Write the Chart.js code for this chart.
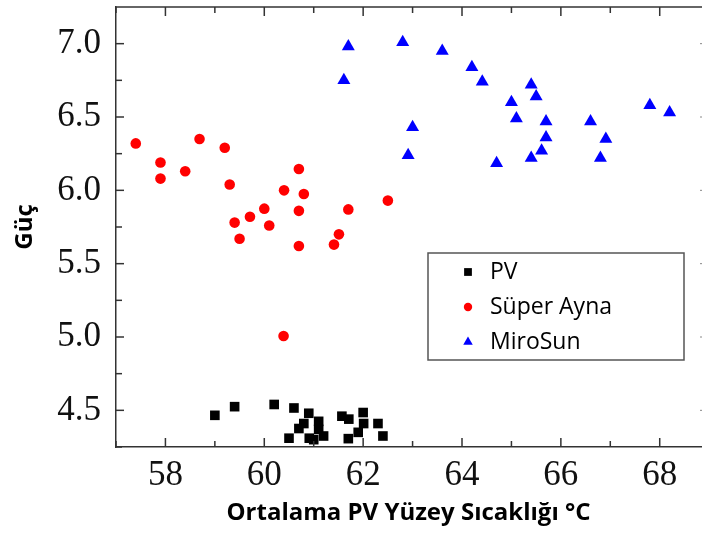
<!DOCTYPE html>
<html>
<head>
<meta charset="utf-8">
<script src="https://cdn.jsdelivr.net/npm/chart.js@4/dist/chart.umd.min.js"></script>
<style>
    html, body { margin: 0; padding: 0; background: #fff; }
    #wrap { width: 702px; height: 533px; }
</style>
</head>
<body>
<div id="wrap"><canvas id="chart" width="702" height="533"></canvas></div>
<script>
/* ── Datos ─────────────────────────────────────────── */
var PV_X = [59.0, 59.4, 60.2, 60.6, 60.9, 60.8, 60.7, 61.1, 61.1, 60.5, 60.91, 61.0, 61.2,
            61.57, 61.71, 62.0, 62.01, 61.9, 61.7, 62.3, 62.4];
var PV_Y = [4.466, 4.525, 4.54, 4.516, 4.48, 4.41, 4.376, 4.425, 4.37, 4.31, 4.31, 4.30, 4.325,
            4.46, 4.44, 4.485, 4.41, 4.35, 4.307, 4.41, 4.325];

var AYNA_X = [57.40, 57.90, 57.90, 58.40, 58.69, 59.20, 59.30, 59.40, 59.50, 59.71, 60.00,
              60.10, 60.40, 60.70, 60.80, 60.70, 60.70, 61.41, 61.51, 61.70, 62.50, 60.39];
var AYNA_Y = [6.32, 6.19, 6.08, 6.13, 6.35, 6.29, 6.04, 5.78, 5.67, 5.82, 5.875,
              5.76, 6.00, 6.145, 5.975, 5.86, 5.62, 5.63, 5.70, 5.87, 5.93, 5.007];

var MIRO_X = [61.70, 61.61, 62.80, 63.00, 62.91, 63.60, 64.20, 64.41, 65.40, 65.50, 65.00,
              65.10, 65.70, 65.70, 65.61, 65.40, 64.70, 66.60, 66.91, 66.80, 67.80, 68.20];
var MIRO_Y = [6.98, 6.75, 7.01, 6.43, 6.24, 6.95, 6.84, 6.74, 6.72, 6.64, 6.60,
              6.49, 6.47, 6.36, 6.27, 6.22, 6.185, 6.47, 6.35, 6.22, 6.58, 6.53];

var X_LABELS = [58, 60, 62, 64, 66, 68];
var X_MINOR  = [57, 59, 61, 63, 65, 67];
var Y_LABELS = [4.5, 5.0, 5.5, 6.0, 6.5, 7.0];
var Y_MINOR  = [4.25, 4.75, 5.25, 5.75, 6.25, 6.75];

var AXIS = '#333333';

function pares(xs, ys) {
    return xs.map(function (x, i) { return { x: x, y: ys[i] }; });
}

/* ── Marcas hacia dentro, borde superior y leyenda ─── */
var marcos = {
    id: 'marcos',
    afterDatasetsDraw: function (chart) {
        var ctx = chart.ctx, a = chart.chartArea;
        var sx = chart.scales.x, sy = chart.scales.y;
        ctx.save();
        ctx.strokeStyle = AXIS;
        ctx.lineWidth = 1.5;

        ctx.beginPath();
        ctx.moveTo(a.left, a.top);
        ctx.lineTo(a.right + 1, a.top);
        ctx.stroke();

        function xTick(v, len) {
            var px = sx.getPixelForValue(v);
            ctx.beginPath();
            ctx.moveTo(px, a.bottom); ctx.lineTo(px, a.bottom - len);
            ctx.moveTo(px, a.top);    ctx.lineTo(px, a.top + len);
            ctx.stroke();
        }
        function yTick(v, len) {
            var py = sy.getPixelForValue(v);
            ctx.beginPath();
            ctx.moveTo(a.left, py); ctx.lineTo(a.left + len, py);
            ctx.stroke();
        }
        X_LABELS.forEach(function (v) { xTick(v, 9); });
        X_MINOR.forEach(function (v) { xTick(v, 6); });
        Y_LABELS.forEach(function (v) { yTick(v, 8); });
        Y_MINOR.forEach(function (v) { yTick(v, 6); });

        // marcas del eje derecho (recortado en la imagen)
        ctx.strokeStyle = '#888';
        ctx.lineWidth = 1;
        Y_LABELS.forEach(function (v) {
            var py = sy.getPixelForValue(v);
            ctx.beginPath();
            ctx.moveTo(a.right - 1, py); ctx.lineTo(a.right + 1, py);
            ctx.stroke();
        });

        // leyenda
        var bx = a.left + 312, by = a.top + 246, bw = 256, bh = 107;
        ctx.fillStyle = '#fff';
        ctx.fillRect(bx, by, bw, bh);
        ctx.strokeStyle = '#555';
        ctx.lineWidth = 1.5;
        ctx.strokeRect(bx, by, bw, bh);

        ctx.font = '23px "Open Sans", sans-serif';
        ctx.textBaseline = 'middle';
        ctx.textAlign = 'left';
        chart.data.datasets.forEach(function (ds, i) {
            var ry = by + 19 + i * 35;
            ctx.fillStyle = ds.backgroundColor;
            ctx.strokeStyle = ds.backgroundColor;
            Chart.helpers.drawPoint(ctx, {
                pointStyle: ds.pointStyle,
                radius: ds.pointStyle === 'rect' ? 5.5 : (ds.pointStyle === 'triangle' ? 5.5 : 4.2),
                borderWidth: 0
            }, bx + 40, ry);
            ctx.fillStyle = '#000';
            ctx.fillText(ds.label, bx + 62, ry);
        });
        ctx.restore();
    }
};

new Chart(document.getElementById('chart'), {
    type: 'scatter',
    data: {
        datasets: [
            {
                label: 'PV',
                data: pares(PV_X, PV_Y),
                pointStyle: 'rect',
                pointRadius: 6.8,
                backgroundColor: '#000000',
                borderColor: '#000000',
                borderWidth: 0
            },
            {
                label: 'Süper Ayna',
                data: pares(AYNA_X, AYNA_Y),
                pointStyle: 'circle',
                pointRadius: 5.3,
                backgroundColor: '#ff0000',
                borderColor: '#ff0000',
                borderWidth: 0
            },
            {
                label: 'MiroSun',
                data: pares(MIRO_X, MIRO_Y),
                pointStyle: 'triangle',
                pointRadius: 7.5,
                backgroundColor: '#0000ff',
                borderColor: '#0000ff',
                borderWidth: 0
            }
        ]
    },
    options: {
        responsive: false,
        animation: false,
        layout: { autoPadding: false, padding: { top: 7, right: 1, left: 0, bottom: 0 } },
        plugins: {
            legend: { display: false },
            tooltip: { enabled: false }
        },
        scales: {
            x: {
                type: 'linear',
                min: 57,
                max: 68.835,
                grid: { display: false, drawTicks: false },
                border: { display: true, color: AXIS, width: 1.5 },
                afterBuildTicks: function (s) {
                    s.ticks = X_LABELS.map(function (v) { return { value: v }; });
                },
                afterFit: function (s) {
                    s.height = 86;
                    s.paddingLeft = 0;
                    s.paddingRight = 0;
                },
                ticks: {
                    color: '#111',
                    padding: 8,
                    maxRotation: 0,
                    font: { family: '"Liberation Serif", "Times New Roman", serif', size: 35 },
                    callback: function (v) { return String(v); }
                },
                title: {
                    display: true,
                    text: 'Ortalama PV Yüzey Sıcaklığı °C',
                    color: '#000',
                    padding: 5,
                    font: { family: '"Open Sans", sans-serif', size: 24, weight: 'bold' }
                }
            },
            y: {
                type: 'linear',
                min: 4.25,
                max: 7.25,
                grid: { display: false, drawTicks: false },
                border: { display: true, color: AXIS, width: 1.5 },
                afterBuildTicks: function (s) {
                    s.ticks = Y_LABELS.map(function (v) { return { value: v }; });
                },
                afterFit: function (s) {
                    s.width = 116;
                    s.paddingTop = 0;
                    s.paddingBottom = 0;
                },
                ticks: {
                    color: '#111',
                    padding: 15,
                    font: { family: '"Liberation Serif", "Times New Roman", serif', size: 35 },
                    callback: function (v) { return Number(v).toFixed(1); }
                },
                title: {
                    display: true,
                    text: 'Güç',
                    color: '#000',
                    padding: 11,
                    font: { family: '"Open Sans", sans-serif', size: 24, weight: 'bold' }
                }
            }
        }
    },
    plugins: [marcos]
});
</script>
</body>
</html>
